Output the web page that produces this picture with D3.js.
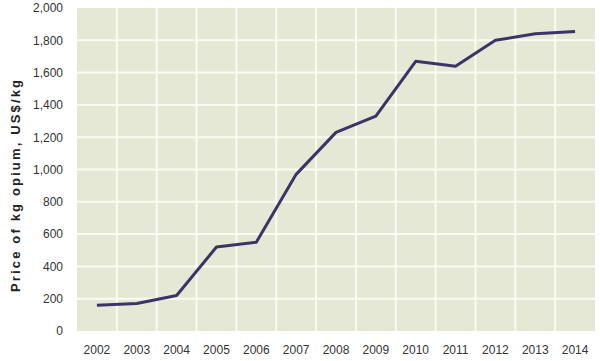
<!DOCTYPE html>
<html><head><meta charset="utf-8">
<script src="https://cdn.jsdelivr.net/npm/d3@7"></script>
<style>body{margin:0;background:#fff;} text{font-family:"Liberation Sans",Arial,sans-serif;}</style>
</head><body><svg id="c" width="600" height="361"></svg>
<script>
const years = ["2002","2003","2004","2005","2006","2007","2008","2009","2010","2011","2012","2013","2014"];
const prices = [160,170,220,520,550,970,1230,1330,1670,1640,1800,1840,1855];
const yTicks = [0,200,400,600,800,1000,1200,1400,1600,1800,2000];
const yTitle = "Price of kg opium, US$/kg";

const svg = d3.select("#c");
const m = {l:77, r:5, t:8, b:30};
const W = 600, H = 361;
const x = d3.scaleBand().domain(years).range([m.l, W-m.r]);
const y = d3.scaleLinear().domain([0,2000]).range([H-m.b, m.t]);

svg.append("rect").attr("x",m.l).attr("y",m.t).attr("width",W-m.r-m.l).attr("height",H-m.b-m.t).attr("fill","#e5e8d4");

const g = svg.append("g");
g.selectAll("line.h").data(yTicks.slice(1,-1)).enter().append("line")
 .attr("x1",m.l).attr("x2",W-m.r).attr("y1",d=>y(d)).attr("y2",d=>y(d))
 .attr("stroke","#fbfbf3").attr("stroke-width",2);
g.selectAll("line.v").data(years.slice(1)).enter().append("line")
 .attr("x1",d=>x(d)).attr("x2",d=>x(d)).attr("y1",m.t).attr("y2",H-m.b)
 .attr("stroke","#fbfbf3").attr("stroke-width",2);

const ya = d3.axisLeft(y).tickValues(yTicks).tickFormat(d3.format(",")).tickSize(0).tickPadding(14);
svg.append("g").attr("transform",`translate(${m.l},0)`).call(ya)
 .call(s=>s.select(".domain").remove())
 .selectAll("text").attr("font-size",12).attr("fill","#333").style("font-family","Liberation Sans, Arial, sans-serif");

const xa = d3.axisBottom(x).tickSize(0).tickPadding(14);
svg.append("g").attr("transform",`translate(0,${H-m.b})`).call(xa)
 .call(s=>s.select(".domain").remove())
 .selectAll("text").attr("font-size",12).attr("fill","#333").style("font-family","Liberation Sans, Arial, sans-serif");

const line = d3.line().x((d,i)=>x(years[i])+x.bandwidth()/2).y(d=>y(d));
svg.append("path").datum(prices).attr("d",line).attr("fill","none")
 .attr("stroke","#3c3466").attr("stroke-width",3).attr("stroke-linejoin","round");

svg.append("text").attr("transform",`translate(20,186) rotate(-90)`)
 .attr("text-anchor","middle").attr("font-size",13).attr("font-weight","bold").attr("fill","#222")
 .attr("textLength",212).attr("lengthAdjust","spacing").text(yTitle);
</script></body></html>
